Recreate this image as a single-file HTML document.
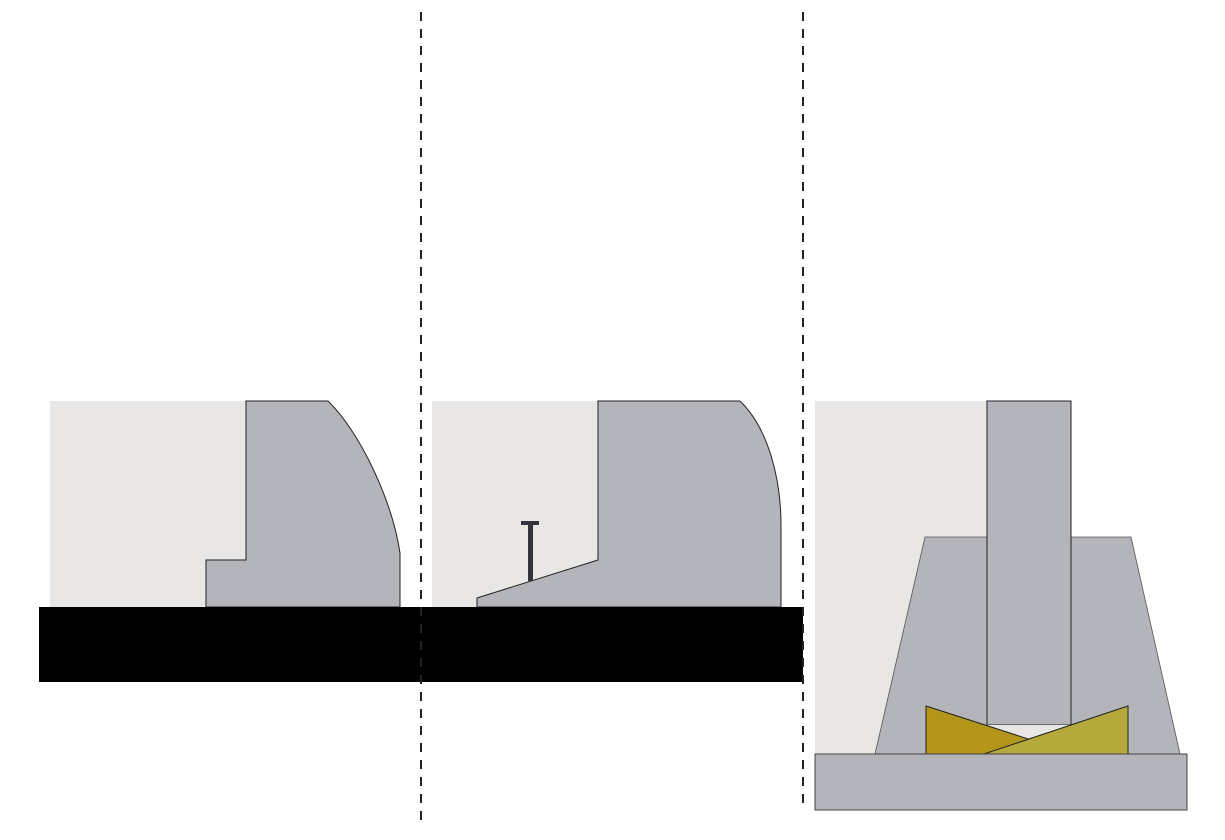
<!DOCTYPE html>
<html><head><meta charset="utf-8"><style>
html,body{margin:0;padding:0;background:#fff;width:1225px;height:840px;overflow:hidden}
svg{display:block}
</style></head><body>
<svg width="1225" height="840" viewBox="0 0 1225 840" xmlns="http://www.w3.org/2000/svg">
<!-- panel 1 -->
<rect x="50" y="401" width="197" height="206" fill="#e8e7e5"/>
<path d="M246,401 L328,401 C360,432 392,500 400,553 L400,607 L206,607 L206,560 L246,560 Z" fill="#b4b5ba" stroke="#222" stroke-width="1"/>
<!-- panel 2 -->
<rect x="432" y="401" width="166" height="206" fill="#e8e7e5"/>
<path d="M598,401 L740,401 C768,428 781,478 781,525 L781,607 L477,607 L477,598 L598,560 Z" fill="#b4b5ba" stroke="#222" stroke-width="1"/>
<rect x="528" y="521" width="5" height="60" fill="#33333d"/>
<rect x="521" y="521" width="18" height="4" fill="#33333d"/>
<!-- black bar -->
<rect x="39" y="607" width="764" height="75" fill="#000"/>
<!-- panel 3 -->
<rect x="815" y="401" width="172" height="353" fill="#e8e7e5"/>
<polygon points="925,537 1131,537 1180,754 875,754" fill="#b4b5ba" stroke="#555" stroke-width="0.8"/>
<rect x="987" y="401" width="84" height="324" fill="#b4b5ba" stroke="#222" stroke-width="1"/>
<polygon points="987,725 1071,725 1027,740 987,740" fill="#e8e7e5"/>
<polygon points="926,706 1075,754 926,754" fill="#b39619" stroke="#222" stroke-width="1"/>
<polygon points="1128,706 1128,754 984,754" fill="#b4aa3c" stroke="#222" stroke-width="1"/>
<rect x="815" y="754" width="372" height="56" fill="#b4b5ba" stroke="#444" stroke-width="1"/>
<!-- dashed lines -->
<line x1="421" y1="12" x2="421" y2="828" stroke="#222" stroke-width="2" stroke-dasharray="9,8"/>
<line x1="803" y1="12" x2="803" y2="808" stroke="#222" stroke-width="2" stroke-dasharray="9,8"/>
</svg>
</body></html>
